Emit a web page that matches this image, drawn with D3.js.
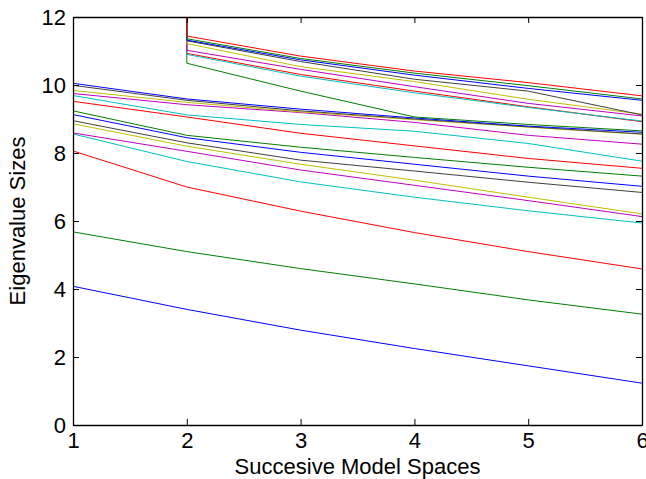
<!DOCTYPE html>
<html>
<head>
<meta charset="utf-8">
<script src="https://cdn.jsdelivr.net/npm/d3@7"></script>
<style>
  html, body { margin: 0; padding: 0; background: #fff; }
  svg { display: block; }
  text { font-family: "Liberation Sans", Arial, Helvetica, sans-serif; }
</style>
</head>
<body>
<svg id="chart" width="646" height="479"></svg>
<script>
// Model-space index along the x axis
const modelSpaces = [1, 2, 3, 4, 5, 6];

// Eigenvalue tracks, ascending order; tracks 16-24 start far above the axes
const BIG = 10000;
const eig01 = [4.08, 3.40, 2.79, 2.25, 1.74, 1.23];
const eig02 = [5.68, 5.10, 4.60, 4.15, 3.68, 3.26];
const eig03 = [8.06, 7.00, 6.29, 5.66, 5.10, 4.59];
const eig04 = [8.56, 7.75, 7.15, 6.70, 6.30, 5.94];
const eig05 = [8.59, 8.05, 7.50, 7.05, 6.60, 6.13];
const eig06 = [8.86, 8.20, 7.67, 7.20, 6.70, 6.21];
const eig07 = [8.95, 8.30, 7.79, 7.47, 7.14, 6.84];
const eig08 = [9.13, 8.45, 8.02, 7.67, 7.32, 7.02];
const eig09 = [9.24, 8.52, 8.17, 7.87, 7.58, 7.32];
const eig10 = [9.52, 9.06, 8.58, 8.21, 7.84, 7.55];
const eig11 = [9.69, 9.12, 8.84, 8.64, 8.28, 7.76];
const eig12 = [9.75, 9.42, 9.19, 8.90, 8.52, 8.26];
const eig13 = [9.84, 9.49, 9.21, 8.98, 8.76, 8.55];
const eig14 = [9.99, 9.55, 9.24, 9.00, 8.77, 8.56];
const eig15 = [10.05, 9.59, 9.29, 9.03, 8.79, 8.61];
const eig16 = [BIG, 10.64, 9.82, 9.06, 8.84, 8.65];
const eig17 = [BIG, 10.93, 10.31, 9.82, 9.36, 8.92];
const eig18 = [BIG, 10.90, 10.26, 9.77, 9.34, 8.94];
const eig19 = [BIG, 11.02, 10.46, 9.95, 9.46, 9.09];
const eig20 = [BIG, 11.22, 10.54, 10.10, 9.58, 9.14];
const eig21 = [BIG, 11.30, 10.69, 10.17, 9.82, 9.12];
const eig22 = [BIG, 11.32, 10.74, 10.29, 9.90, 9.55];
const eig23 = [BIG, 11.36, 10.78, 10.35, 9.98, 9.59];
const eig24 = [BIG, 11.44, 10.85, 10.41, 10.07, 9.68];

const tracks = [eig01, eig02, eig03, eig04, eig05, eig06, eig07, eig08,
                eig09, eig10, eig11, eig12, eig13, eig14, eig15, eig16,
                eig17, eig18, eig19, eig20, eig21, eig22, eig23, eig24];

// Classic colour order, cycled through the tracks
const colorOrder = ["#0000ff", "#008000", "#ff0000", "#00bfbf",
                    "#bf00bf", "#bfbf00", "#404040"];

const xTicks = [1, 2, 3, 4, 5, 6];
const yTicks = [0, 2, 4, 6, 8, 10, 12];

const xLabel = "Succesive Model Spaces";
const yLabel = "Eigenvalue Sizes";

// Axes box
const boxLeft = 73, boxRight = 642, boxTop = 17, boxBottom = 425;
const fontSize = 22;

const svg = d3.select("#chart");

const x = d3.scaleLinear().domain([1, 6]).range([boxLeft, boxRight]);
const y = d3.scaleLinear().domain([0, 12]).range([boxBottom, boxTop]);

svg.append("defs").append("clipPath").attr("id", "plotClip")
  .append("rect")
  .attr("x", boxLeft).attr("y", boxTop)
  .attr("width", boxRight - boxLeft).attr("height", boxBottom - boxTop);

const line = d3.line()
  .x((d, i) => x(modelSpaces[i]))
  .y(d => y(d));

svg.append("g")
  .attr("clip-path", "url(#plotClip)")
  .selectAll("path")
  .data(tracks)
  .join("path")
  .attr("d", line)
  .attr("fill", "none")
  .attr("stroke", (d, i) => colorOrder[i % colorOrder.length])
  .attr("stroke-width", 1);

// Axes with inward ticks on all four sides
const tickLen = 6;
const axisG = svg.append("g");

const styleLabels = g => g.selectAll("text")
  .attr("font-size", fontSize).attr("fill", "#000")
  .attr("font-family", "Liberation Sans, Arial, sans-serif");

axisG.append("g")
  .attr("transform", `translate(0,${boxBottom})`)
  .call(d3.axisBottom(x).tickValues(xTicks).tickFormat(d3.format("d"))
    .tickSizeInner(-tickLen).tickSizeOuter(0).tickPadding(7))
  .call(styleLabels);

axisG.append("g")
  .attr("transform", `translate(0,${boxTop})`)
  .call(d3.axisTop(x).tickValues(xTicks).tickFormat("")
    .tickSizeInner(-tickLen).tickSizeOuter(0));

axisG.append("g")
  .attr("transform", `translate(${boxLeft},0)`)
  .call(d3.axisLeft(y).tickValues(yTicks).tickFormat(d3.format("d"))
    .tickSizeInner(-tickLen).tickSizeOuter(0).tickPadding(7))
  .call(styleLabels);

axisG.append("g")
  .attr("transform", `translate(${boxRight},0)`)
  .call(d3.axisRight(y).tickValues(yTicks).tickFormat("")
    .tickSizeInner(-tickLen).tickSizeOuter(0));

axisG.selectAll(".domain").attr("stroke", "#000").attr("stroke-width", 1.3);
axisG.selectAll(".tick line").attr("stroke", "#000");

// Axis titles
svg.append("text")
  .attr("x", (boxLeft + boxRight) / 2)
  .attr("y", 474)
  .attr("text-anchor", "middle")
  .attr("font-size", fontSize)
  .text(xLabel);

svg.append("text")
  .attr("transform", `translate(25,${(boxTop + boxBottom) / 2}) rotate(-90)`)
  .attr("text-anchor", "middle")
  .attr("font-size", fontSize)
  .text(yLabel);
</script>
</body>
</html>
